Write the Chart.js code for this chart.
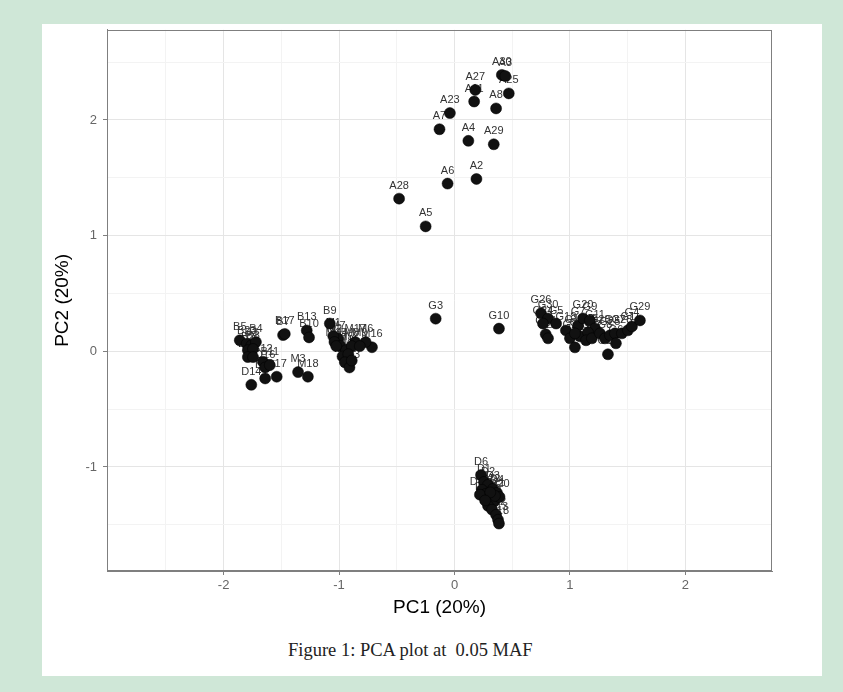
<!DOCTYPE html>
<html>
<head>
<meta charset="utf-8">
<title>PCA plot</title>
<script src="https://cdn.jsdelivr.net/npm/chart.js@4.4.0/dist/chart.umd.min.js"></script>
<style>
  html, body { margin: 0; padding: 0; }
  body { width: 843px; height: 692px; background: #cfe7d7; position: relative; overflow: hidden; }
  #panel { position: absolute; left: 42px; top: 24px; width: 780px; height: 652px; background: #fff; }
  #pca { position: absolute; left: 0; top: -8px; }
  #caption { position: absolute; left: 246px; top: 616px; font-family: "Liberation Serif", "DejaVu Serif", serif;
             font-size: 18.5px; white-space: pre; color: #222; }
</style>
</head>
<body>
<div id="panel">
  <canvas id="pca" width="780" height="608"></canvas>
  <div id="caption">Figure 1: PCA plot at  0.05 MAF</div>
</div>
<script>
// sample groups, PC1 / PC2 scores
const aNames = ['A30', 'A3', 'A25', 'A27', 'A11', 'A23', 'A8', 'A7', 'A4', 'A29', 'A2', 'A6', 'A28', 'A5'];
const aPC1 = [0.41, 0.44, 0.47, 0.18, 0.17, -0.04, 0.36, -0.13, 0.12, 0.34, 0.19, -0.06, -0.48, -0.25];
const aPC2 = [2.39, 2.38, 2.23, 2.26, 2.16, 2.06, 2.10, 1.92, 1.82, 1.79, 1.49, 1.45, 1.32, 1.08];

const bNames = ['B5', 'B23', 'B3', 'B4', 'B2', 'B8', 'B15', 'B6', 'B12', 'D16', 'D17', 'D15', 'D14', 'B11',
                'B7', 'B17', 'B13', 'B10', 'M3', 'M18', 'B9'];
const bPC1 = [-1.86, -1.80, -1.76, -1.72, -1.79, -1.745, -1.79, -1.745, -1.66, -1.64, -1.54, -1.64, -1.76, -1.60,
              -1.485, -1.47, -1.28, -1.26, -1.355, -1.27, -1.08];
const bPC2 = [0.095, 0.066, 0.05, 0.08, 0.01, 0.02, -0.05, -0.05, -0.09, -0.14, -0.22, -0.235, -0.29, -0.12,
              0.14, 0.15, 0.18, 0.12, -0.18, -0.22, 0.24];

const mNames = ['M7', 'M17', 'M16', 'M6', 'M1', 'M2', 'M4', 'M5', 'M8', 'M9', 'M10', 'M11', 'M12', 'M13', 'M14', 'M15'];
const mPC1 = [-1.01, -0.86, -0.715, -0.77, -1.05, -1.04, -0.99, -0.94, -0.89, -0.82, -0.97, -0.92, -0.95, -0.91, -0.89, -1.025];
const mPC2 = [0.11, 0.08, 0.035, 0.08, 0.13, 0.08, 0.045, 0.01, 0.045, 0.045, -0.045, -0.025, -0.095, -0.14, -0.08, 0.045];

const gNames = ['G3', 'G10', 'G26', 'G30', 'G5', 'G24', 'G14', 'G21', 'G18', 'G2', 'G12', 'G7', 'G20', 'G9', 'G11',
                'G13', 'G15', 'G16', 'G19', 'G22', 'G23', 'G8', 'G25', 'G27', 'G28', 'G1', 'G4', 'G29', 'G17', 'G6'];
const gPC1 = [-0.163, 0.385, 0.749, 0.81, 0.88, 0.766, 0.79, 0.81, 0.965, 1.0, 1.043, 1.07, 1.113, 1.173, 1.216,
              1.087, 1.156, 1.043, 1.139, 1.19, 1.26, 1.303, 1.346, 1.39, 1.45, 1.502, 1.537, 1.606, 1.329, 1.398];
const gPC2 = [0.282, 0.196, 0.328, 0.284, 0.24, 0.24, 0.147, 0.112, 0.18, 0.112, 0.034, 0.224, 0.284, 0.267, 0.198,
              0.129, 0.164, 0.155, 0.095, 0.112, 0.155, 0.112, 0.138, 0.155, 0.155, 0.181, 0.215, 0.267, -0.026, 0.069];

const dNames = ['D6', 'D1', 'D2', 'D3', 'D4', 'D5', 'D7', 'D8', 'D9', 'D10', 'D11', 'D12', 'D13', 'D18', 'D19',
                'D20', 'D21', 'D22', 'D23'];
const dPC1 = [0.23, 0.255, 0.29, 0.333, 0.368, 0.238, 0.273, 0.307, 0.342, 0.29, 0.325, 0.36, 0.377, 0.385, 0.22,
              0.39, 0.35, 0.31, 0.265];
const dPC2 = [-1.07, -1.13, -1.155, -1.19, -1.224, -1.198, -1.233, -1.267, -1.30, -1.336, -1.37, -1.414, -1.457, -1.49, -1.24,
              -1.26, -1.25, -1.22, -1.29];

const xTicks = [-2, -1, 0, 1, 2];
const yTicks = [-1, 0, 1, 2];

const majorGrid = '#e5e5e5';
const minorGrid = '#f3f3f3';
const frame = '#7f7f7f';

function toPoints(xs, ys) {
    return xs.map((x, i) => ({ x: x, y: ys[i] }));
}

function group(names, xs, ys) {
    return {
        data: toPoints(xs, ys),
        names: names,
        backgroundColor: '#111',
        borderColor: '#000',
        borderWidth: 0.5,
        pointRadius: 5.5,
        pointHoverRadius: 5.5
    };
}

function gridColor(ctx) {
    const v = ctx.tick ? ctx.tick.value : NaN;
    if (Math.abs(v * 2 - Math.round(v * 2)) > 1e-6) return 'rgba(0,0,0,0)';
    return Math.abs(v - Math.round(v)) < 1e-6 ? majorGrid : minorGrid;
}

function tickMarkColor(list) {
    return ctx => {
        const v = ctx.tick ? ctx.tick.value : NaN;
        return list.some(t => Math.abs(t - v) < 1e-6) ? frame : 'rgba(0,0,0,0)';
    };
}

function tickLabel(list) {
    return v => list.some(t => Math.abs(t - v) < 1e-6) ? String(Math.round(v)) : '';
}

// labels go under the points, like the original
const pointLabels = {
    id: 'pointLabels',
    beforeDatasetsDraw(chart) {
        const ctx = chart.ctx;
        const area = chart.chartArea;
        ctx.save();
        ctx.strokeStyle = frame;
        ctx.lineWidth = 1;
        ctx.strokeRect(Math.round(area.left) + 0.5, Math.round(area.top) + 0.5,
                       Math.round(area.right - area.left) - 1, Math.round(area.bottom - area.top) - 1);
        ctx.font = '11px "Liberation Sans", Arial, sans-serif';
        ctx.fillStyle = '#333';
        ctx.textAlign = 'center';
        ctx.textBaseline = 'middle';
        chart.data.datasets.forEach((ds, i) => {
            chart.getDatasetMeta(i).data.forEach((pt, j) => {
                ctx.fillText(ds.names[j], pt.x, pt.y - 13);
            });
        });
        ctx.restore();
    }
};

const ctx = document.getElementById('pca').getContext('2d');
new Chart(ctx, {
    type: 'scatter',
    data: {
        datasets: [
            group(aNames, aPC1, aPC2),
            group(bNames, bPC1, bPC2),
            group(mNames, mPC1, mPC2),
            group(gNames, gPC1, gPC2),
            group(dNames, dPC1, dPC2)
        ]
    },
    options: {
        responsive: false,
        animation: false,
        devicePixelRatio: 1,
        layout: { padding: { top: 5, right: 50, left: 0, bottom: 0 } },
        plugins: {
            legend: { display: false },
            tooltip: { enabled: false }
        },
        scales: {
            x: {
                type: 'linear',
                min: -3.01,
                max: 2.75,
                afterFit: s => { s.height = 53; },
                border: { display: true, color: frame, width: 1 },
                grid: { color: gridColor, tickColor: tickMarkColor(xTicks), tickLength: 4, lineWidth: 1 },
                ticks: {
                    stepSize: 0.5, autoSkip: false, maxRotation: 0, padding: 3,
                    color: '#666', font: { family: '"Liberation Sans", Arial, sans-serif', size: 13 },
                    callback: tickLabel(xTicks)
                },
                title: {
                    display: true, text: 'PC1 (20%)', color: '#000',
                    font: { family: '"Liberation Sans", Arial, sans-serif', size: 19 },
                    padding: { top: 0, bottom: 5 }
                }
            },
            y: {
                type: 'linear',
                min: -1.90,
                max: 2.78,
                afterFit: s => { s.width = 65; },
                border: { display: true, color: frame, width: 1 },
                grid: { color: gridColor, tickColor: tickMarkColor(yTicks), tickLength: 4, lineWidth: 1 },
                ticks: {
                    stepSize: 0.5, autoSkip: false, padding: 6,
                    color: '#666', font: { family: '"Liberation Sans", Arial, sans-serif', size: 13 },
                    callback: tickLabel(yTicks)
                },
                title: {
                    display: true, text: 'PC2 (20%)', color: '#000',
                    font: { family: '"Liberation Sans", Arial, sans-serif', size: 19 },
                    padding: { top: 9, bottom: 0 }
                }
            }
        }
    },
    plugins: [pointLabels]
});
</script>
</body>
</html>
